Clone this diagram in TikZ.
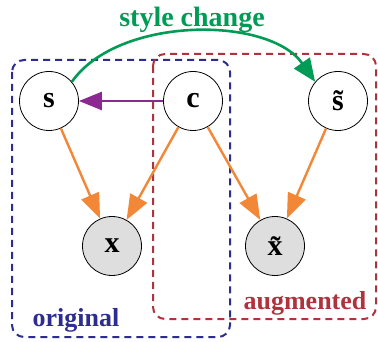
\documentclass[tikz,border=0pt]{standalone}
\usepackage{fontspec}
\setmainfont{Liberation Serif}
\usetikzlibrary{arrows.meta}
\definecolor{cgreen}{RGB}{0,155,85}
\definecolor{cpurple}{RGB}{140,40,145}
\definecolor{corange}{RGB}{242,135,55}
\definecolor{cblue}{RGB}{45,45,145}
\definecolor{cred}{RGB}{175,50,60}
\definecolor{cgray}{RGB}{222,222,222}
\tikzset{
  var/.style={circle, draw=black, line width=0.8pt, minimum size=59pt, inner sep=0pt, font=\fontsize{30}{30}\selectfont\bfseries},
  obs/.style={var, fill=cgray},
  orangehead/.tip={Triangle[length=25pt,width=19pt]},
  dep/.style={draw=corange, line width=2.4pt, -orangehead},
  grp/.style={dash pattern=on 7pt off 5pt, line width=2pt, rounded corners=12pt},
  lab/.style={font=\fontsize{26}{26}\selectfont\bfseries}
}
\begin{document}
\begin{tikzpicture}[x=1pt,y=-1pt]
\useasboundingbox (0,0) rectangle (378,342);
\draw[grp, draw=cblue] (12,60) rectangle (230,337);
\draw[grp, draw=cred] (153,54) rectangle (376,319);
\node[var] (s) at (49,101) {s};
\node[var] (c) at (193,101) {c};
\node[var] (st) at (338,101) {\~{s}};
\node[obs] (x) at (112,246) {x};
\node[obs] (xt) at (275,246) {\~{x}};
\draw[dep] (s) -- (x);
\draw[dep] (c) -- (x);
\draw[dep] (c) -- (xt);
\draw[dep] (st) -- (xt);
\draw[draw=cpurple, line width=2.4pt, -{Triangle[length=23pt,width=18pt]}] (c) -- (s);
\draw[draw=cgreen, line width=2.6pt, -{Triangle[length=23pt,width=19pt]}] (s.40) to[out=55,in=125,looseness=0.85] (st.140);
\node[lab, text=cgreen, font=\fontsize{28}{28}\selectfont\bfseries] (t) at (192,20) {style change};
\node[lab, text=cblue, anchor=base] (o) at (76,326) {original};
\node[lab, text=cred, anchor=base] (a) at (305,309) {augmented};
\end{tikzpicture}
\end{document}
